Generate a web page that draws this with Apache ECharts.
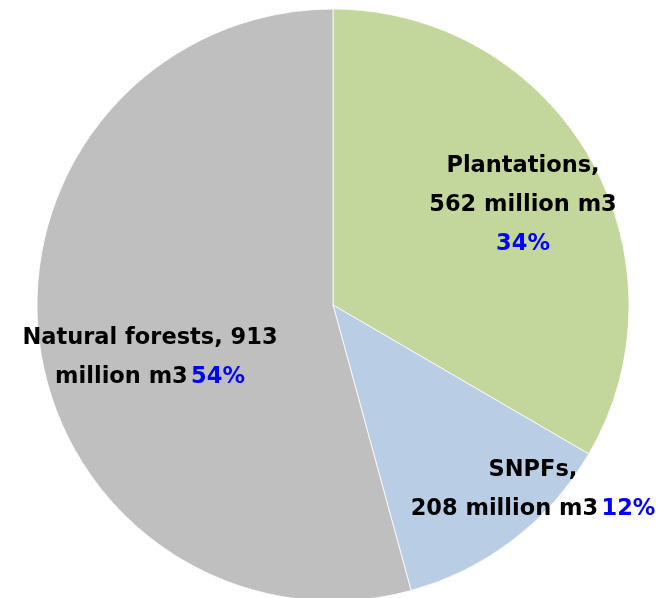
<!DOCTYPE html>
<html>
<head>
<meta charset="utf-8">
<script src="https://cdn.jsdelivr.net/npm/echarts@6/dist/echarts.min.js"></script>
<style>
  html, body { margin: 0; padding: 0; background: #fff; }
  #chart { width: 667px; height: 598px; }
</style>
</head>
<body>
<div id="chart"></div>
<script>
// Growing stock by forest type (million m3)
const categories = ['Plantations', 'SNPFs', 'Natural forests'];
const volumes = [562, 208, 913];
const shareLabels = ['34%', '12%', '54%'];
const colors = ['#C3D69B', '#B9CDE5', '#BFBFBF'];

// label text layout for each slice
const labelTemplates = [
  (n, v, p) => `{b|${n},}\n{b|${v} million m3}\n{p|${p}}`,
  (n, v, p) => `{b|${n},}\n{b|${v} million m3} {p|${p}}`,
  (n, v, p) => `{b|${n}, ${v}}\n{b|million m3} {p|${p}}`
];
// label anchor points (px)
const labelSpots = [[523, 205], [533, 490], [150, 358]];

const FONT = '"DejaVu Sans", sans-serif';

const chart = echarts.init(document.getElementById('chart'), null, { renderer: 'canvas' });

chart.setOption({
  animation: false,
  series: [{
    type: 'pie',
    center: [333, 305],
    radius: 296,
    startAngle: 90,
    clockwise: true,
    itemStyle: { borderColor: '#ffffff', borderWidth: 0.8 },
    label: {
      show: true,
      position: 'inside',
      align: 'center',
      formatter: p => labelTemplates[p.dataIndex](p.name, p.value, shareLabels[p.dataIndex]),
      rich: {
        b: { fontFamily: FONT, fontWeight: 'bold', fontSize: 22.5, color: '#000000', lineHeight: 39 },
        p: { fontFamily: FONT, fontWeight: 'bold', fontSize: 22.5, color: '#0000FF', lineHeight: 39 }
      }
    },
    labelLine: { show: false },
    labelLayout: p => ({ x: labelSpots[p.dataIndex][0], y: labelSpots[p.dataIndex][1], align: 'center', verticalAlign: 'middle' }),
    emphasis: { disabled: true },
    data: categories.map((c, i) => ({ name: c, value: volumes[i], itemStyle: { color: colors[i] } }))
  }]
});
</script>
</body>
</html>
